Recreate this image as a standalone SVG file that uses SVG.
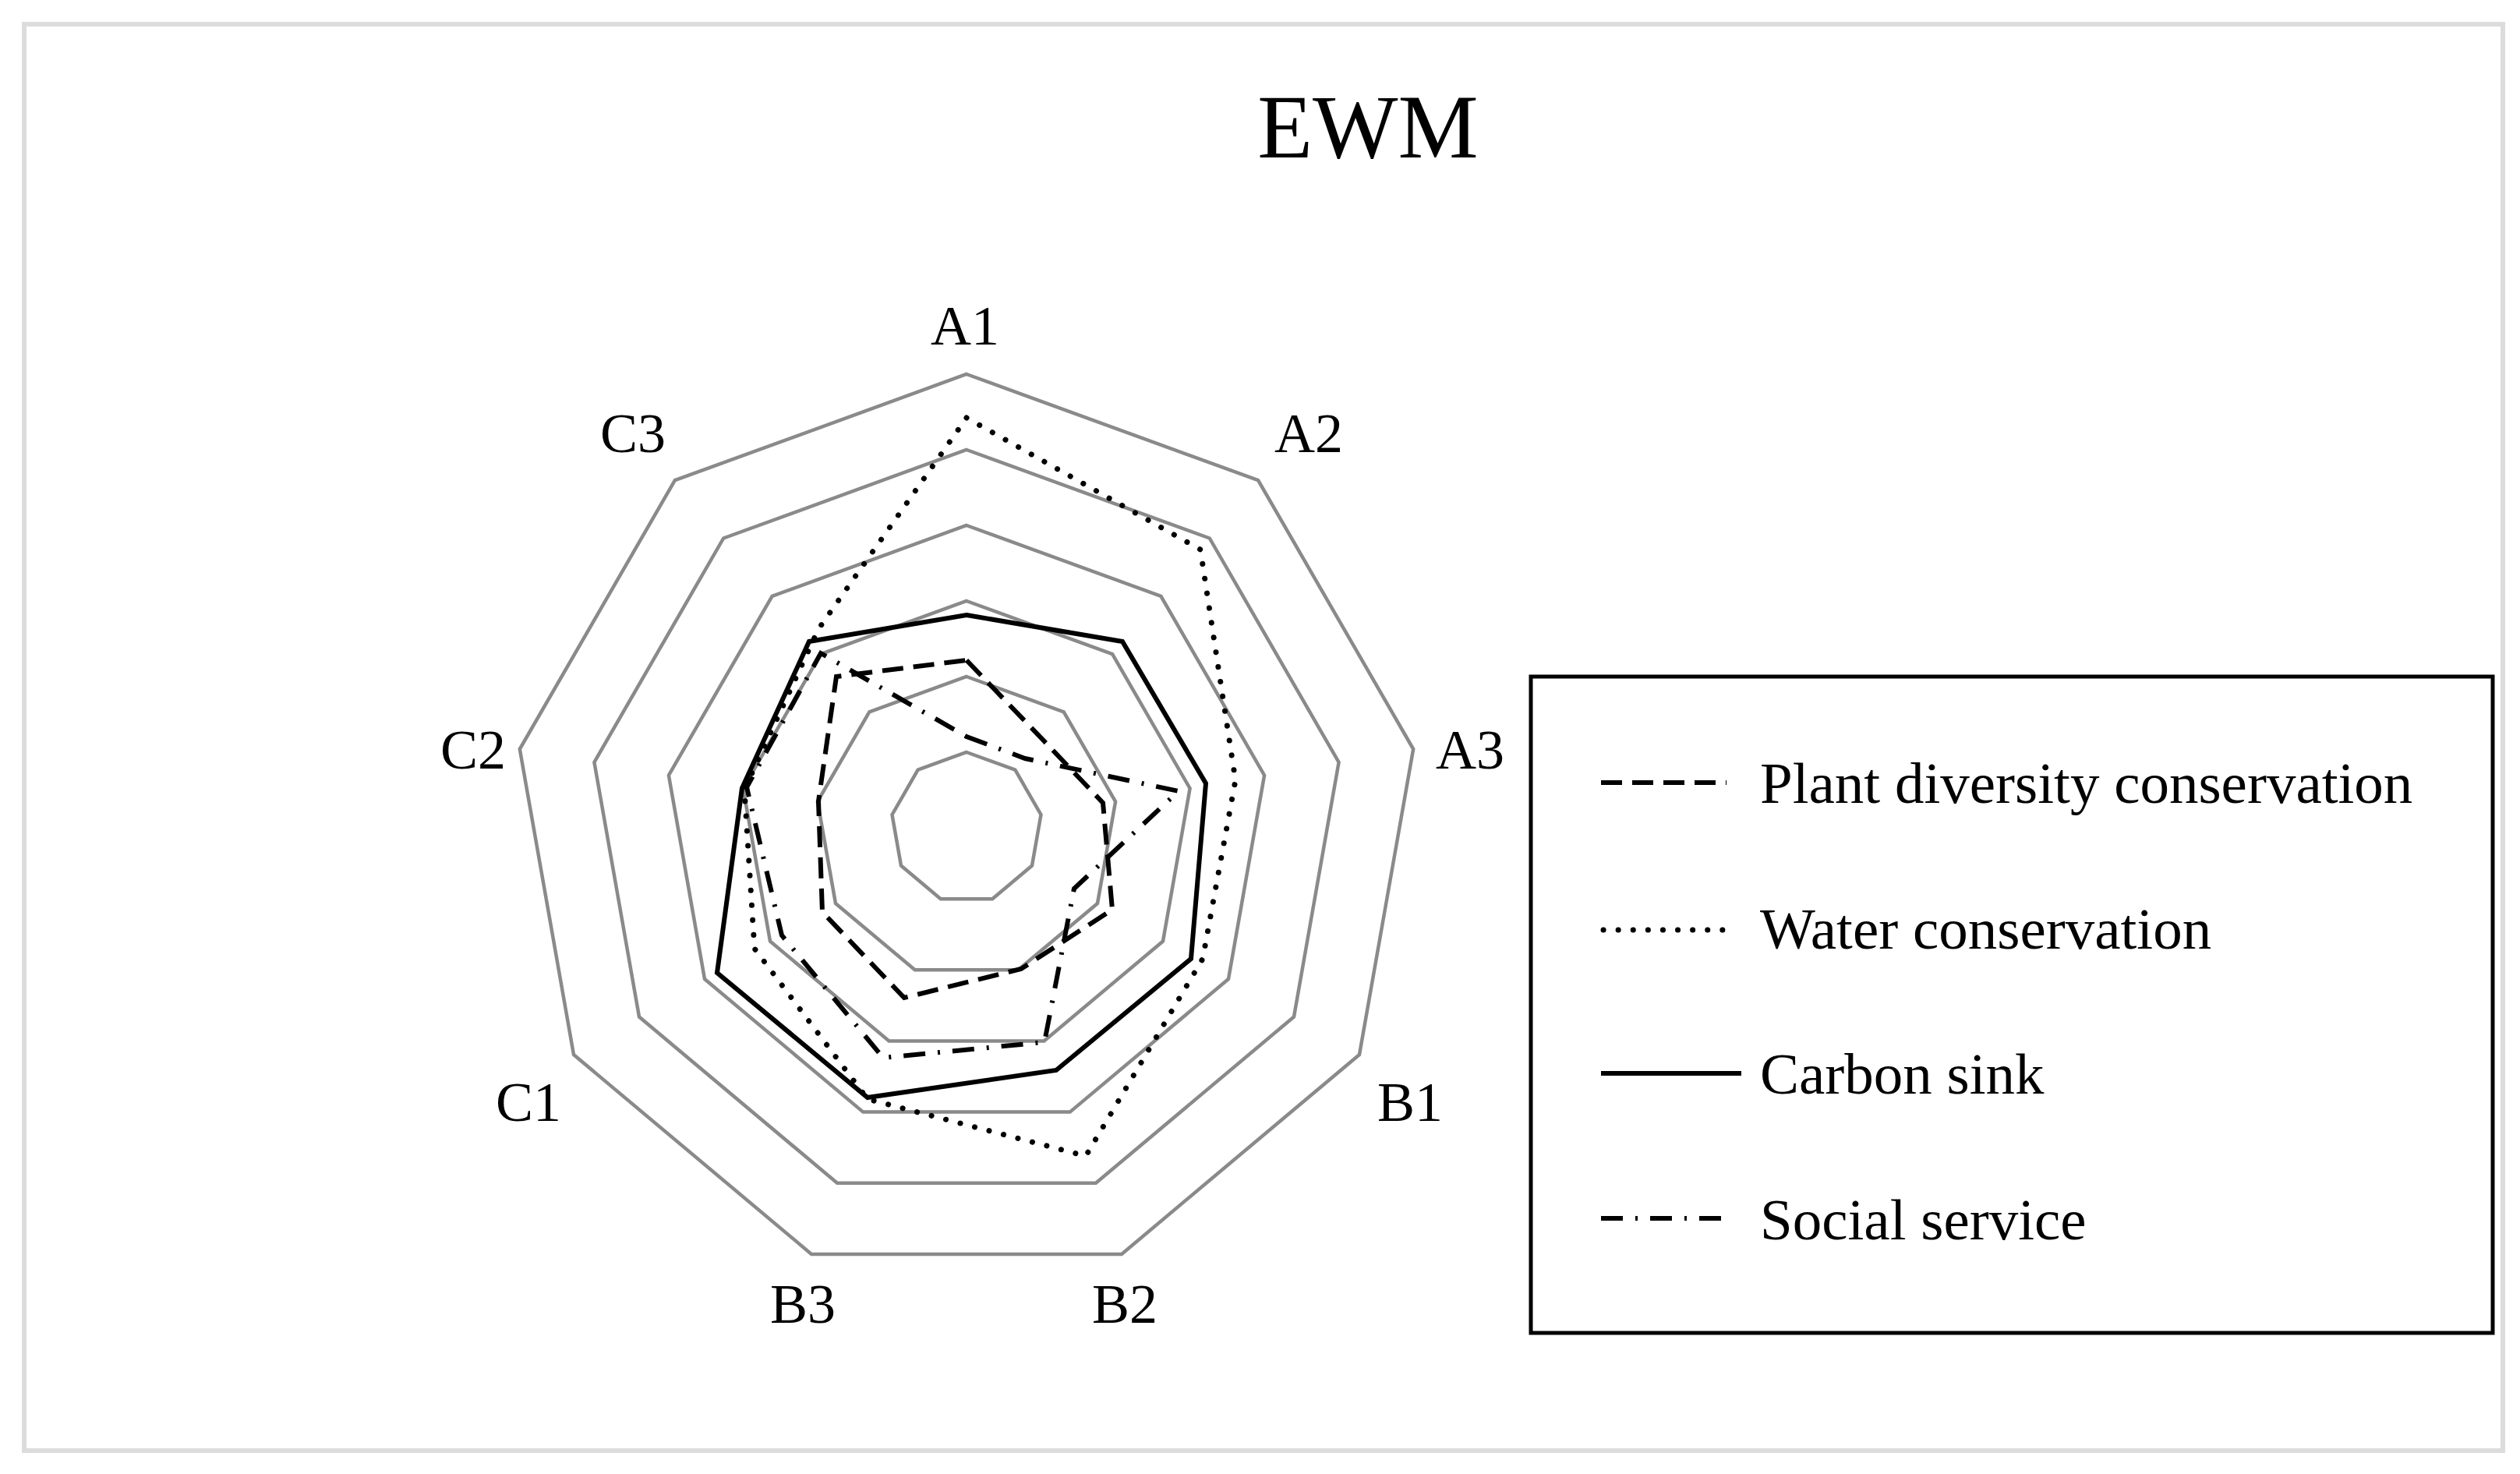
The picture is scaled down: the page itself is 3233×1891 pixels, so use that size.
<svg xmlns="http://www.w3.org/2000/svg" width="3233" height="1891" viewBox="0 0 3233 1891">
<style>
.ring{fill:none;stroke:#8a8a8a;stroke-width:4.5;stroke-linejoin:miter}
.lbl{font-family:"Liberation Serif","Times New Roman",serif;font-size:72px;fill:#000;text-anchor:middle}
.leg{font-family:"Liberation Serif","Times New Roman",serif;font-size:75px;fill:#000}
.s{fill:none;stroke:#000;stroke-width:6;stroke-linejoin:miter}
.dash{stroke-dasharray:27 13}
.dot{stroke-dasharray:0.1 19;stroke-linecap:round;stroke-width:7}
.dd{stroke-dasharray:28 16 3 16}
</style>
<rect x="31" y="31" width="3180" height="1830" fill="#fff" stroke="#dcdcdc" stroke-width="6"/>
<text x="1755" y="202" font-family="'Liberation Serif','Times New Roman',serif" font-size="116" text-anchor="middle">EWM</text>
<g id="grid" transform="translate(1240 1062)">
<polygon class="ring" points="0,-97 62.4,-74.3 95.5,-16.8 84,48.5 33.2,91.2 -33.2,91.2 -84,48.5 -95.5,-16.8 -62.4,-74.3"/>
<polygon class="ring" points="0,-194 124.7,-148.6 191.1,-33.7 168,97 66.3,182.3 -66.3,182.3 -168,97 -191.1,-33.7 -124.7,-148.6"/>
<polygon class="ring" points="0,-291 187.1,-222.9 286.6,-50.5 252,145.5 99.5,273.5 -99.5,273.5 -252,145.5 -286.6,-50.5 -187.1,-222.9"/>
<polygon class="ring" points="0,-388 249.4,-297.2 382.1,-67.4 336,194 132.7,364.6 -132.7,364.6 -336,194 -382.1,-67.4 -249.4,-297.2"/>
<polygon class="ring" points="0,-485 311.8,-371.5 477.6,-84.2 420,242.5 165.9,455.8 -165.9,455.8 -420,242.5 -477.6,-84.2 -311.8,-371.5"/>
<polygon class="ring" points="0,-582 374.1,-445.8 573.2,-101 504,291 199,546.9 -199,546.9 -504,291 -573.2,-101 -374.1,-445.8"/>
</g>
<g id="labels">
<text class="lbl" x="1238" y="442">A1</text>
<text class="lbl" x="1679" y="580">A2</text>
<text class="lbl" x="1886" y="986">A3</text>
<text class="lbl" x="1809" y="1438">B1</text>
<text class="lbl" x="1443" y="1697">B2</text>
<text class="lbl" x="1030" y="1697">B3</text>
<text class="lbl" x="678" y="1438">C1</text>
<text class="lbl" x="607" y="986">C2</text>
<text class="lbl" x="812" y="580">C3</text>
</g>
<g id="series">
<polygon id="water" class="s dot" points="1240,536 1540,705 1585,1001 1543,1230 1393,1483 1113,1410 968,1217 955,1013 1050,807"/>
<polygon id="carbon" class="s" points="1240,789 1440,823 1547,1005 1528,1230 1355,1373 1113,1408 920,1248 952,1011 1038,823"/>
<polygon id="plant" class="s dash" points="1240,847 1336,947 1415,1030 1427,1167 1310,1243 1160,1280 1055,1170 1050,1028 1073,868"/>
<polygon id="social" class="s dd" points="1240,945 1315,973 1512,1015 1378,1140 1340,1337 1133,1357 1003,1200 958,1010 1053,838"/>
</g>
<g id="legend">
<rect x="1964" y="868" width="1234" height="842" fill="none" stroke="#000" stroke-width="5"/>
<line class="s dash" x1="2054" y1="1004" x2="2215" y2="1004"/>
<text class="leg" x="2258" y="1030">Plant diversity conservation</text>
<line class="s dot" x1="2057" y1="1193" x2="2215" y2="1193"/>
<text class="leg" x="2258" y="1217">Water conservation</text>
<line class="s" x1="2054" y1="1377" x2="2234" y2="1377"/>
<text class="leg" x="2258" y="1403">Carbon sink</text>
<line class="s dd" x1="2054" y1="1563" x2="2220" y2="1563"/>
<text class="leg" x="2258" y="1590">Social service</text>
</g>
</svg>
